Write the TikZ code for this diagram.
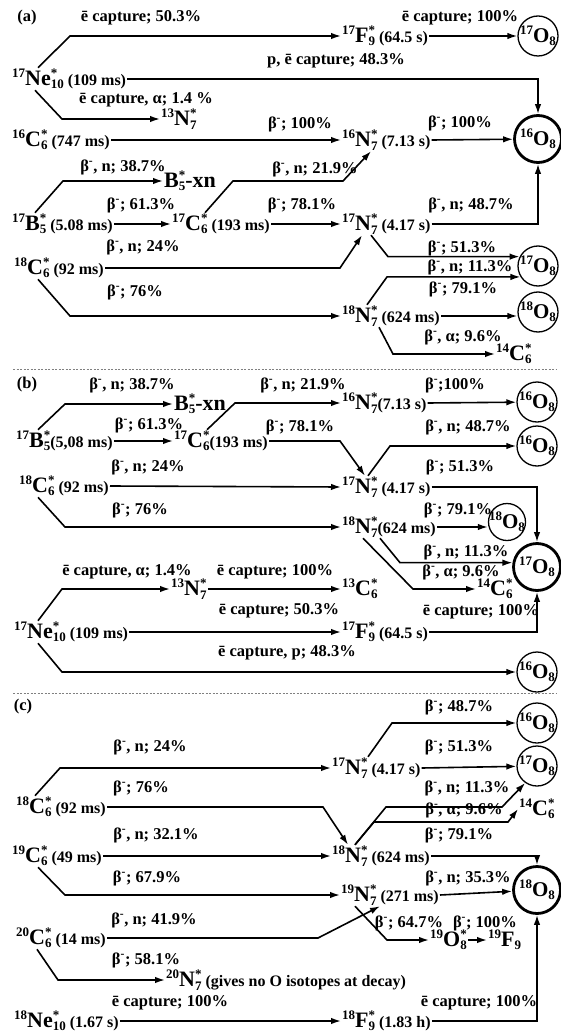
\documentclass[tikz,border=0pt]{standalone}
\usepackage{fontspec}
\setmainfont{Liberation Serif}
\usetikzlibrary{arrows.meta}
\newcommand{\nuc}[4]{{\fontsize{13}{13}\selectfont\raisebox{0.6em}{#1}}#2{\fontsize{13}{13}\selectfont\rlap{\raisebox{0.6em}{#4}}\raisebox{-0.28em}{#3}}}
\newcommand{\hl}[1]{{\fontsize{16}{18}\selectfont #1}}
\newcommand{\bmin}{β\textsuperscript{-}}
\newcommand{\ec}{ē capture}
\begin{document}
\begin{tikzpicture}[x=1pt, y=-1pt,
	nucl/.style={anchor=west, inner sep=1pt, font=\fontsize{22}{24}\selectfont\bfseries},
	lbl/.style={inner sep=0pt, font=\fontsize{16.5}{18}\selectfont\bfseries},
	prod/.style={circle, draw, line width=1.3pt, minimum size=40pt, inner sep=-10pt, font=\fontsize{21}{22}\selectfont\bfseries},
	prodmain/.style={prod, line width=2.8pt, minimum size=47pt},
	arr/.style={line width=1.6pt, -{Latex[length=10pt,width=6.5pt]}},
	sep/.style={gray, line width=0.6pt, dash pattern=on 2pt off 1.5pt}]
	\useasboundingbox (0,0) rectangle (560,1032);
	% (a)
	\node[lbl] at (27,18) {(a)};
	\node[lbl] at (141,18) {\ec; 50.3\%};
	\node[nucl] (Ne17a) at (11,79) {\nuc{17}{Ne}{10}{*}\hl{~(109 ms)}};
	\node[nucl] (F17a) at (341,36) {\nuc{17}{F}{9}{*}\hl{~(64.5 s)}};
	\node[prod] (O17a1) at (538,36) {\nuc{17}{O}{8}{}};
	\node[lbl] at (460,18) {\ec; 100\%};
	\node[lbl] at (336,61) {p, \ec; 48.3\%};
	\node[prodmain] (O16a) at (538,139) {\nuc{16}{O}{8}{}};
	\node[lbl] at (146,100) {\ec, α; 1.4 \%};
	\node[nucl] (N13a) at (160,119) {\nuc{13}{N}{7}{*}};
	\node[nucl] (C16a) at (11,140) {\nuc{16}{C}{6}{*}\hl{~(747 ms)}};
	\node[nucl] (N16a) at (341,140) {\nuc{16}{N}{7}{*}\hl{~(7.13 s)}};
	\node[lbl] at (300,124) {\bmin; 100\%};
	\node[lbl] at (460,123) {\bmin; 100\%};
	\node[lbl] at (123,167) {\bmin, n; 38.7\%};
	\node[lbl] at (315,169) {\bmin, n; 21.9\%};
	\node[nucl] (Bxa) at (163,181) {\nuc{}{B}{5}{*}-xn};
	\node[lbl] at (141,205) {\bmin; 61.3\%};
	\node[lbl] at (302,205) {\bmin; 78.1\%};
	\node[lbl] at (471,205) {\bmin, n; 48.7\%};
	\node[nucl] (B17a) at (11,224) {\nuc{17}{B}{5}{*}\hl{~(5.08 ms)}};
	\node[nucl] (C17a) at (171,224) {\nuc{17}{C}{6}{*}\hl{~(193 ms)}};
	\node[nucl] (N17a) at (341,224) {\nuc{17}{N}{7}{*}\hl{~(4.17 s)}};
	\node[lbl] at (143,247) {\bmin, n; 24\%};
	\node[lbl] at (462,248) {\bmin; 51.3\%};
	\node[prod] (O17a2) at (538,266) {\nuc{17}{O}{8}{}};
	\node[lbl] at (470,267) {\bmin, n; 11.3\%};
	\node[nucl] (C18a) at (13,268) {\nuc{18}{C}{6}{*}\hl{~(92 ms)}};
	\node[lbl] at (463,289) {\bmin; 79.1\%};
	\node[lbl] at (135,292) {\bmin; 76\%};
	\node[prod] (O18a) at (538,312) {\nuc{18}{O}{8}{}};
	\node[nucl] (N18a) at (341,316) {\nuc{18}{N}{7}{*}\hl{~(624 ms)}};
	\node[lbl] at (463,337) {\bmin, α; 9.6\%};
	\node[nucl] (C14a) at (495,354) {\nuc{14}{C}{6}{*}};
	\draw[arr] ([xshift=27pt]Ne17a.north west) -- (70,0 |- F17a.west) -- (F17a.west);
	\draw[arr] (F17a.east) -- (O17a1);
	\draw[arr] (Ne17a.east) -| (O16a.north);
	\draw[arr] ([xshift=24pt]Ne17a.south west) -- (62,0 |- N13a.west) -- (N13a.west);
	\draw[arr] (C16a.east) -- (N16a.west);
	\draw[arr] (N16a.east) -- (O16a);
	\draw[arr] ([xshift=24pt]B17a.north west) -- (63,0 |- Bxa.west) -- (Bxa.west);
	\draw[arr] (B17a.east) -- (C17a.west);
	\draw[arr] ([xshift=34pt]C17a.north west) -- (233,0 |- Bxa.west) -- (343,0 |- Bxa.west) -- ([xshift=30pt]N16a.south west);
	\draw[arr] (C17a.east) -- (N17a.west);
	\draw[arr] (N17a.east) -| (O16a.south);
	\draw[arr] (C18a.east) -- (340,0 |- C18a.east) -- ([xshift=21pt]N17a.south west);
	\draw[arr] ([xshift=30pt]N17a.south west) -- (388,0 |- O17a2.153) -- (O17a2.153);
	\draw[arr] ([xshift=26pt]N18a.north west) -- (387,0 |- O17a2.212) -- (O17a2.212);
	\draw[arr] ([xshift=25pt]C18a.south west) -- (70,0 |- N18a.west) -- (N18a.west);
	\draw[arr] (N18a.east) -- (N18a.east -| O18a.west);
	\draw[arr] ([xshift=38pt]N18a.south west) -- (393,0 |- C14a.west) -- (C14a.west);
	\draw[sep] (13,369) -- (557,369);
	% (b)
	\node[lbl] at (27,385) {(b)};
	\node[lbl] at (132,385) {\bmin, n; 38.7\%};
	\node[lbl] at (303,385) {\bmin, n; 21.9\%};
	\node[lbl] at (455,385) {\bmin;100\%};
	\node[nucl] (Bxb) at (173,404) {\nuc{}{B}{5}{*}-xn};
	\node[nucl] (N16b) at (341,403) {\nuc{16}{N}{7}{*}\hl{(7.13 s)}};
	\node[prod] (O16b1) at (537,402) {\nuc{16}{O}{8}{}};
	\node[lbl] at (149,425) {\bmin; 61.3\%};
	\node[lbl] at (300,427) {\bmin; 78.1\%};
	\node[lbl] at (468,427) {\bmin, n; 48.7\%};
	\node[nucl] (B17b) at (15,441) {\nuc{17}{B}{5}{*}\hl{(5,08 ms)}};
	\node[nucl] (C17b) at (173,441) {\nuc{17}{C}{6}{*}\hl{(193 ms)}};
	\node[prod] (O16b2) at (537,446) {\nuc{16}{O}{8}{}};
	\node[lbl] at (148,467) {\bmin, n; 24\%};
	\node[lbl] at (460,467) {\bmin; 51.3\%};
	\node[nucl] (C18b) at (18,486) {\nuc{18}{C}{6}{*}\hl{~(92 ms)}};
	\node[nucl] (N17b) at (341,487) {\nuc{17}{N}{7}{*}\hl{~(4.17 s)}};
	\node[lbl] at (140,510) {\bmin; 76\%};
	\node[lbl] at (458,510) {\bmin; 79.1\%};
	\node[prod, minimum size=37pt] (O18b) at (507,522) {\nuc{18}{O}{8}{}};
	\node[nucl] (N18b) at (341,527) {\nuc{18}{N}{7}{*}\hl{(624 ms)}};
	\node[lbl] at (466,552) {\bmin, n; 11.3\%};
	\node[prodmain] (O17b) at (537,567) {\nuc{17}{O}{8}{}};
	\node[lbl] at (127,572) {\ec, α; 1.4\%};
	\node[lbl] at (275,572) {\ec; 100\%};
	\node[lbl] at (461,572) {\bmin, α; 9.6\%};
	\node[nucl] (N13b) at (170,589) {\nuc{13}{N}{7}{*}};
	\node[nucl] (C13b) at (341,589) {\nuc{13}{C}{6}{*}};
	\node[nucl] (C14b) at (476,589) {\nuc{14}{C}{6}{*}};
	\node[lbl] at (279,611) {\ec; 50.3\%};
	\node[lbl] at (481,612) {\ec; 100\%};
	\node[nucl] (Ne17b) at (13,632) {\nuc{17}{Ne}{10}{*}\hl{~(109 ms)}};
	\node[nucl] (F17b) at (341,632) {\nuc{17}{F}{9}{*}\hl{~(64.5 s)}};
	\node[lbl] at (287,653) {\ec, p; 48.3\%};
	\node[prod] (O16b3) at (537,672) {\nuc{16}{O}{8}{}};
	\draw[arr] ([xshift=23pt]B17b.north west) -- (65,0 |- Bxb.west) -- (Bxb.west);
	\draw[arr] (B17b.east) -- (C17b.west);
	\draw[arr] ([xshift=34pt]C17b.north west) -- (235,0 |- N16b.west) -- (N16b.west);
	\draw[arr] (N16b.east) -- (O16b1);
	\draw[arr] (C17b.east) -- (340,0 |- C17b.east) -- ([xshift=24pt]N17b.north west);
	\draw[arr] ([xshift=27pt]N17b.north west) -- (390,0 |- O16b2.west) -- (O16b2.west);
	\draw[arr] (C18b.east) -- (N17b.west);
	\draw[arr] (N17b.east) -| (O17b.north);
	\draw[arr] ([xshift=20pt]C18b.south west) -- (65,0 |- N18b.west) -- (N18b.west);
	\draw[arr] (N18b.east) -- (N18b.east -| O18b.west);
	\draw[arr] ([xshift=39pt]N18b.south west) -- (400,0 |- O17b.170) -- (O17b.170);
	\draw[arr] ([xshift=22pt]N18b.south west) -- (413,0 |- C14b.west) -- (C14b.west);
	\draw[arr] ([xshift=25pt]Ne17b.north west) -- (62,0 |- N13b.west) -- (N13b.west);
	\draw[arr] (N13b.east) -- (C13b.west);
	\draw[arr] (Ne17b.east) -- (F17b.west);
	\draw[arr] (F17b.east) -| (O17b.south);
	\draw[arr] ([xshift=25pt]Ne17b.south west) -- (62,0 |- O16b3.west) -- (O16b3.west);
	\draw[sep] (13,693) -- (557,693);
	% (c)
	\node[lbl] at (23,707) {(c)};
	\node[lbl] at (459,707) {\bmin; 48.7\%};
	\node[prod] (O16c) at (537,723) {\nuc{16}{O}{8}{}};
	\node[lbl] at (150,747) {\bmin, n; 24\%};
	\node[lbl] at (459,747) {\bmin; 51.3\%};
	\node[nucl] (N17c) at (331,768) {\nuc{17}{N}{7}{*}\hl{~(4.17 s)}};
	\node[prod] (O17c) at (537,766) {\nuc{17}{O}{8}{}};
	\node[lbl] at (141,788) {\bmin; 76\%};
	\node[lbl] at (467,788) {\bmin, n; 11.3\%};
	\node[nucl] (C18c) at (15,807) {\nuc{18}{C}{6}{*}\hl{~(92 ms)}};
	\node[lbl] at (464,810) {\bmin, α; 9.6\%};
	\node[nucl] (C14c) at (518,809) {\nuc{14}{C}{6}{*}};
	\node[lbl] at (156,835) {\bmin, n; 32.1\%};
	\node[lbl] at (459,835) {\bmin; 79.1\%};
	\node[nucl] (C19c) at (11,856) {\nuc{19}{C}{6}{*}\hl{~(49 ms)}};
	\node[nucl] (N18c) at (331,856) {\nuc{18}{N}{7}{*}\hl{~(624 ms)}};
	\node[lbl] at (147,878) {\bmin; 67.9\%};
	\node[lbl] at (468,878) {\bmin, n; 35.3\%};
	\node[prodmain] (O18c) at (537,890) {\nuc{18}{O}{8}{}};
	\node[nucl] (N19c) at (340,895) {\nuc{19}{N}{7}{*}\hl{~(271 ms)}};
	\node[lbl] at (154,920) {\bmin, n; 41.9\%};
	\node[lbl] at (409,923) {\bmin; 64.7\%};
	\node[lbl] at (485,923) {\bmin; 100\%};
	\node[nucl] (C20c) at (15,938) {\nuc{20}{C}{6}{*}\hl{~(14 ms)}};
	\node[nucl] (O19c) at (429,940) {\nuc{19}{O}{8}{*}};
	\node[nucl] (F19c) at (487,940) {\nuc{19}{F}{9}{}};
	\node[lbl] at (146,960) {\bmin; 58.1\%};
	\node[nucl] (N20c) at (165,980) {\nuc{20}{N}{7}{*}\hl{~(gives no O isotopes at decay)}};
	\node[lbl] at (170,1003) {\ec; 100\%};
	\node[lbl] at (479,1003) {\ec; 100\%};
	\node[nucl] (Ne18c) at (13,1021) {\nuc{18}{Ne}{10}{*}\hl{~(1.67 s)}};
	\node[nucl] (F18c) at (341,1021) {\nuc{18}{F}{9}{*}\hl{~(1.83 h)}};
	\draw[arr] ([xshift=20pt]C18c.north west) -- (60,0 |- N17c.west) -- (N17c.west);
	\draw[arr] ([xshift=37pt]N17c.north west) -- (392,0 |- O16c.west) -- (O16c.west);
	\draw[arr] (N17c.east) -- (O17c);
	\draw[arr] (C18c.east) -- (323,0 |- C18c.east) -- ([xshift=17pt]N18c.north west);
	\draw[arr] ([xshift=24pt]N18c.north west) -- (386,807) -- (502,807) -- (O17c.235);
	\draw[arr] ([xshift=24pt]N18c.north west) -- (374,822) -- (508,822) -- (C14c.west);
	\draw[arr] (N18c.east) -| (O18c.north);
	\draw[arr] (C19c.east) -- (N18c.west);
	\draw[arr] ([xshift=27pt]C19c.south west) -- (65,0 |- N19c.west) -- (N19c.west);
	\draw[arr] (N19c.east) -- (O18c);
	\draw[arr] (C20c.east) -- (318,0 |- C20c.east) -- ([xshift=40pt]N19c.south west);
	\draw[arr] ([xshift=15pt]N19c.south west) -- (387,0 |- O19c.west) -- (O19c.west);
	\draw[arr] (O19c.east) -- (F19c.west);
	\draw[arr] ([xshift=22pt]C20c.south west) -- (58,0 |- N20c.west) -- (N20c.west);
	\draw[arr] (Ne18c.east) -- (F18c.west);
	\draw[arr] (F18c.east) -| (O18c.south);
\end{tikzpicture}
\end{document}
